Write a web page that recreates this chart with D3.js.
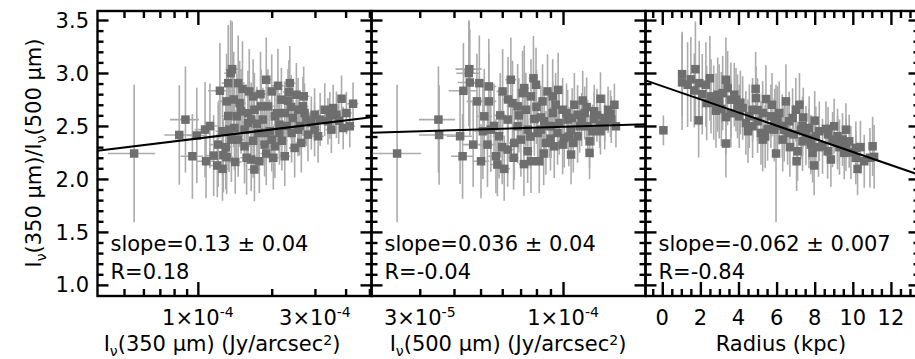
<!DOCTYPE html>
<html>
<head>
<meta charset="utf-8">
<script src="https://cdn.jsdelivr.net/npm/d3@7"></script>
<style>
  body { margin: 0; background: #fff; }
  svg { display: block; font-family: 'DejaVu Sans', sans-serif; }
</style>
</head>
<body>
<script>
// 350/500 um ratio against surface brightness and radius
// surface brightness values are in units of 1e-5 Jy/arcsec^2

// [I350, ratio, ratio err, I350 err]
const pts_350 = [
  [5.5, 2.24, 0.65, 1.2], [8.9, 2.56, 0.5, 1.2], [8.4, 2.415, 0.47, 1.1], [9.5, 2.214, 0.4, 1.0],
  [9.9, 2.41, 0.45, 0.9], [10.7, 2.465, 0.45, 1.0], [10.8, 2.167, 0.35, 0.9], [11.6, 2.22, 0.38, 0.9],
  [12.3, 2.832, 0.45, 1.3], [13.1, 2.732, 0.45, 1.0], [13.3, 2.594, 0.5, 0.8], [13.3, 2.904, 0.55, 0.8],
  [13.6, 2.998, 0.5, 0.8], [13.8, 3.036, 0.45, 0.8], [12.1, 2.324, 0.4, 1.0], [12.7, 2.224, 0.35, 0.9],
  [12.0, 2.127, 0.3, 0.8], [12.6, 2.095, 0.3, 0.8], [13.1, 2.205, 0.35, 0.8], [13.7, 2.371, 0.4, 0.8],
  [14.1, 2.481, 0.4, 0.9], [14.6, 2.904, 0.45, 0.9], [14.8, 2.716, 0.4, 0.9], [15.0, 2.638, 0.4, 0.9],
  [15.5, 2.308, 0.35, 0.9], [16.0, 2.528, 0.35, 0.9], [16.2, 2.826, 0.4, 1.0], [16.8, 2.779, 0.35, 1.0],
  [17.0, 2.653, 0.35, 1.0], [17.6, 2.434, 0.3, 1.0], [16.5, 2.183, 0.3, 1.0], [17.8, 2.167, 0.3, 1.0],
  [19.0, 2.936, 0.4, 1.1], [19.3, 2.685, 0.35, 1.1], [18.4, 2.56, 0.3, 1.1], [20.0, 2.826, 0.35, 1.1],
  [20.6, 2.591, 0.3, 1.1], [21.2, 2.879, 0.35, 1.2], [21.5, 2.434, 0.3, 1.2], [21.9, 2.748, 0.3, 1.2],
  [22.6, 2.622, 0.3, 1.2], [23.7, 2.904, 0.35, 1.3], [23.3, 2.738, 0.3, 1.3], [24.4, 2.575, 0.28, 1.3],
  [25.2, 2.795, 0.3, 1.4], [25.6, 2.465, 0.25, 1.4], [26.8, 2.685, 0.28, 1.4], [27.7, 2.56, 0.25, 1.5],
  [28.1, 2.418, 0.25, 1.5], [26.4, 2.34, 0.28, 1.4], [29.9, 2.465, 0.25, 1.6], [32.9, 2.653, 0.25, 1.7],
  [35.6, 2.669, 0.22, 1.8], [33.9, 2.544, 0.22, 1.8], [38.5, 2.757, 0.22, 2.0], [40.3, 2.622, 0.2, 2.1],
  [42.9, 2.71, 0.2, 2.2], [39.1, 2.481, 0.2, 2.0], [41.6, 2.497, 0.2, 2.1], [20.6, 2.308, 0.3, 1.1],
  [18.7, 2.324, 0.3, 1.0], [17.0, 2.089, 0.3, 1.0], [15.5, 2.465, 0.35, 0.9], [20.0, 2.371, 0.3, 1.1],
  [22.6, 2.214, 0.28, 1.2], [24.8, 2.293, 0.28, 1.3], [29.0, 2.528, 0.25, 1.5], [30.9, 2.403, 0.25, 1.6],
  [35.0, 2.465, 0.22, 1.8], [36.7, 2.606, 0.22, 1.9], [25.6, 2.653, 0.3, 1.4], [18.7, 2.434, 0.3, 1.0],
  [14.6, 2.371, 0.35, 0.9], [14.4, 2.591, 0.4, 0.9], [21.5, 2.512, 0.3, 1.2], [29.9, 2.606, 0.25, 1.6],
  [24.1, 2.434, 0.28, 1.3], [13.4, 2.465, 0.4, 0.8], [18.1, 2.685, 0.35, 1.0], [16.5, 2.56, 0.35, 1.0],
  [14.0, 2.75, 0.45, 0.9], [15.2, 2.85, 0.45, 0.9], [16.0, 2.62, 0.4, 1.0], [17.4, 2.52, 0.35, 1.0],
  [18.0, 2.8, 0.4, 1.0], [19.6, 2.45, 0.3, 1.1], [20.3, 2.2, 0.3, 1.1], [21.0, 2.62, 0.3, 1.2],
  [23.0, 2.5, 0.3, 1.3], [24.0, 2.68, 0.3, 1.3], [26.0, 2.5, 0.28, 1.4], [27.2, 2.62, 0.28, 1.5],
  [31.5, 2.56, 0.25, 1.7], [34.5, 2.6, 0.22, 1.8], [13.0, 2.3, 0.4, 0.8], [15.8, 2.2, 0.35, 0.9],
  [19.0, 2.24, 0.3, 1.0], [22.0, 2.36, 0.28, 1.2], [16.8, 2.36, 0.35, 1.0], [14.2, 2.16, 0.3, 0.9],
  [11.2, 2.5, 0.4, 0.9], [12.6, 2.45, 0.4, 0.8], [23.5, 2.82, 0.3, 1.3], [27.0, 2.78, 0.28, 1.5],
  [37.5, 2.55, 0.22, 1.9],
]

// [I500, ratio, ratio err, I500 err]
const pts_500 = [
  [2.48, 2.24, 0.65, 0.55], [3.51, 2.56, 0.5, 0.53], [3.53, 2.415, 0.47, 0.55], [4.21, 2.403, 0.45, 0.45],
  [4.3, 2.214, 0.4, 0.4], [4.55, 3.036, 0.45, 0.5], [4.53, 2.998, 0.5, 0.45], [4.57, 2.91, 0.5, 0.45],
  [4.33, 2.832, 0.45, 0.5], [4.95, 2.904, 0.45, 0.4], [4.85, 2.732, 0.45, 0.4], [4.7, 2.324, 0.4, 0.4],
  [5.16, 2.591, 0.45, 0.35], [5.3, 2.324, 0.4, 0.35], [5.36, 2.732, 0.45, 0.35], [5.36, 2.873, 0.45, 0.35],
  [5.02, 2.167, 0.35, 0.35], [5.69, 2.214, 0.35, 0.35], [5.76, 2.136, 0.3, 0.3], [6.1, 2.095, 0.3, 0.3],
  [5.84, 2.403, 0.4, 0.3], [6.02, 2.826, 0.4, 0.3], [6.28, 2.56, 0.4, 0.3], [6.45, 2.936, 0.4, 0.3],
  [6.54, 2.716, 0.4, 0.3], [6.83, 2.497, 0.35, 0.3], [7.02, 2.371, 0.35, 0.3], [7.12, 2.81, 0.4, 0.3],
  [7.22, 2.857, 0.4, 0.3], [7.32, 2.653, 0.35, 0.3], [7.43, 2.261, 0.3, 0.3], [7.64, 2.779, 0.35, 0.3],
  [7.86, 2.566, 0.35, 0.3], [7.97, 2.889, 0.35, 0.3], [8.19, 2.167, 0.3, 0.3], [8.31, 2.465, 0.3, 0.3],
  [8.42, 2.732, 0.35, 0.3], [8.78, 2.826, 0.35, 0.3], [8.66, 2.34, 0.3, 0.3], [9.17, 2.622, 0.3, 0.3],
  [9.29, 2.308, 0.3, 0.3], [9.55, 2.434, 0.3, 0.3], [9.69, 2.528, 0.3, 0.3], [9.97, 2.653, 0.3, 0.3],
  [10.1, 2.387, 0.28, 0.3], [10.7, 2.465, 0.28, 0.3], [10.8, 2.575, 0.28, 0.3], [10.7, 2.23, 0.28, 0.3],
  [11.0, 2.7, 0.3, 0.3], [11.5, 2.497, 0.25, 0.3], [12.0, 2.622, 0.25, 0.3], [12.5, 2.355, 0.25, 0.3],
  [12.2, 2.678, 0.28, 0.3], [13.0, 2.566, 0.25, 0.3], [13.0, 2.638, 0.25, 0.3], [13.7, 2.757, 0.25, 0.3],
  [13.6, 2.512, 0.22, 0.3], [14.2, 2.575, 0.22, 0.3], [14.9, 2.616, 0.22, 0.3], [15.4, 2.7, 0.2, 0.3],
  [15.6, 2.497, 0.2, 0.3], [13.7, 2.45, 0.22, 0.3], [12.5, 2.246, 0.25, 0.3], [8.08, 2.434, 0.3, 0.3],
  [6.64, 2.34, 0.35, 0.3], [6.83, 2.685, 0.4, 0.3], [8.54, 2.544, 0.3, 0.3], [10.4, 2.56, 0.28, 0.3],
  [11.3, 2.403, 0.25, 0.3], [7.43, 2.465, 0.35, 0.3], [9.05, 2.497, 0.3, 0.3], [14.6, 2.653, 0.22, 0.3],
  [5.45, 2.465, 0.4, 0.35], [6.28, 2.277, 0.35, 0.3], [9.97, 2.324, 0.28, 0.3], [7.64, 2.167, 0.3, 0.3],
  [12.3, 2.497, 0.25, 0.3], [9.17, 2.779, 0.35, 0.3], [11.3, 2.606, 0.28, 0.3], [14.2, 2.497, 0.22, 0.3],
  [5.9, 2.6, 0.4, 0.3], [6.3, 2.75, 0.4, 0.3], [6.9, 2.6, 0.35, 0.3], [7.6, 2.4, 0.3, 0.3],
  [8.0, 2.68, 0.35, 0.3], [8.9, 2.5, 0.3, 0.3], [9.4, 2.7, 0.3, 0.3], [10.3, 2.62, 0.28, 0.3],
  [11.7, 2.56, 0.25, 0.3], [12.8, 2.45, 0.25, 0.3], [5.6, 2.5, 0.4, 0.35], [6.6, 2.2, 0.3, 0.3],
  [7.2, 2.14, 0.3, 0.3], [8.5, 2.24, 0.3, 0.3], [9.0, 2.38, 0.3, 0.3], [10.9, 2.34, 0.28, 0.3],
  [13.3, 2.6, 0.25, 0.3], [15.0, 2.56, 0.22, 0.3], [6.0, 2.3, 0.35, 0.3], [7.8, 2.95, 0.4, 0.3],
  [5.1, 2.45, 0.45, 0.35], [9.6, 2.84, 0.35, 0.3], [11.8, 2.74, 0.28, 0.3], [8.3, 2.58, 0.3, 0.3],
  [10.5, 2.4, 0.28, 0.3],
]

// [radius kpc, ratio, ratio err]
const pts_radius = [
  [0.06, 2.459, 0.14], [1.04, 2.989, 0.4], [1.04, 2.911, 0.45], [1.33, 2.889, 0.4],
  [1.74, 3.036, 0.45], [1.94, 2.904, 0.4], [2.29, 2.889, 0.4], [1.68, 2.835, 0.35],
  [1.91, 2.553, 0.35], [2.33, 2.716, 0.35], [2.56, 2.779, 0.35], [2.82, 2.644, 0.35],
  [2.91, 2.795, 0.35], [3.34, 2.936, 0.4], [3.43, 2.857, 0.35], [3.34, 2.584, 0.35],
  [3.34, 2.334, 0.32], [3.6, 2.748, 0.35], [3.78, 2.795, 0.3], [3.95, 2.685, 0.3],
  [3.87, 2.748, 0.3], [4.22, 2.669, 0.3], [4.39, 2.528, 0.3], [4.57, 2.591, 0.3],
  [4.74, 2.653, 0.3], [4.92, 2.763, 0.3], [5.0, 2.544, 0.3], [5.18, 2.434, 0.3],
  [5.27, 2.622, 0.3], [5.44, 2.754, 0.32], [5.53, 2.472, 0.3], [5.7, 2.591, 0.3],
  [5.76, 2.7, 0.3], [5.88, 2.465, 0.3], [5.97, 2.24, 0.65], [6.05, 2.575, 0.3],
  [6.14, 2.622, 0.3], [6.32, 2.371, 0.3], [6.49, 2.732, 0.35], [6.58, 2.434, 0.3],
  [6.66, 2.544, 0.28], [6.84, 2.575, 0.28], [7.01, 2.653, 0.3], [7.1, 2.261, 0.28],
  [7.05, 2.167, 0.28], [7.28, 2.465, 0.28], [7.36, 2.355, 0.28], [7.54, 2.409, 0.28],
  [7.71, 2.481, 0.3], [7.8, 2.324, 0.28], [7.97, 2.127, 0.28], [8.06, 2.403, 0.28],
  [8.24, 2.45, 0.28], [8.41, 2.308, 0.26], [8.59, 2.472, 0.26], [8.68, 2.261, 0.26],
  [8.85, 2.183, 0.26], [9.02, 2.497, 0.26], [9.2, 2.403, 0.26], [9.2, 2.34, 0.25],
  [9.46, 2.371, 0.25], [9.55, 2.246, 0.25], [9.64, 2.324, 0.25], [9.81, 2.355, 0.25],
  [10.16, 2.293, 0.25], [10.16, 2.199, 0.25], [10.25, 2.095, 0.25], [10.6, 2.167, 0.25],
  [11.12, 2.208, 0.3], [4.74, 2.497, 0.3], [4.04, 2.591, 0.3], [7.36, 2.497, 0.28],
  [5.27, 2.371, 0.3], [6.4, 2.465, 0.3], [7.89, 2.246, 0.28], [8.94, 2.371, 0.26],
  [2.99, 2.732, 0.35], [9.64, 2.465, 0.25], [11.04, 2.308, 0.28], [3.17, 2.81, 0.35],
  [1.5, 2.94, 0.4], [2.1, 2.8, 0.38], [2.7, 2.72, 0.35], [3.1, 2.66, 0.35],
  [3.6, 2.62, 0.32], [4.1, 2.72, 0.3], [4.5, 2.45, 0.3], [5.0, 2.65, 0.3],
  [5.4, 2.4, 0.3], [5.9, 2.55, 0.3], [6.3, 2.5, 0.3], [6.9, 2.42, 0.28],
  [7.4, 2.58, 0.28], [7.7, 2.38, 0.28], [8.2, 2.3, 0.28], [8.7, 2.42, 0.26],
  [9.3, 2.3, 0.26], [9.9, 2.25, 0.25], [10.4, 2.3, 0.25], [10.9, 2.2, 0.28],
  [6.7, 2.3, 0.28], [8.0, 2.55, 0.28], [4.9, 2.85, 0.35], [2.5, 2.95, 0.4],
  [7.2, 2.7, 0.3],
]

// fitted lines, end points
const fit_350 = [[3.9, 2.266], [51, 2.582]]
const fit_500 = [[2, 2.436], [20, 2.516]]
const fit_radius = [[-0.88, 2.93], [13.5, 2.038]]

const fit_text = [
  ['slope=0.13 ± 0.04', 'R=0.18'],
  ['slope=0.036 ± 0.04', 'R=-0.04'],
  ['slope=-0.062 ± 0.007', 'R=-0.84'],
]

const y_major = [1.0, 1.5, 2.0, 2.5, 3.0, 3.5]
const y_minor = [1.1, 1.2, 1.3, 1.4, 1.6, 1.7, 1.8, 1.9, 2.1, 2.2, 2.3, 2.4, 2.6, 2.7, 2.8, 2.9, 3.1, 3.2, 3.3, 3.4]

const x350_major = [10]
const x350_minor = [5, 6, 7, 8, 9, 20, 30, 40, 50]
const x350_labels = [[10, '1×10', '-4'], [30, '3×10', '-4']]

const x500_major = [10]
const x500_minor = [3, 4, 5, 6, 7, 8, 9]
const x500_labels = [[3, '3×10', '-5'], [10, '1×10', '-4']]

const r_major = [0, 2, 4, 6, 8, 10, 12]
const r_minor = [-0.5, 0.5, 1, 1.5, 2.5, 3, 3.5, 4.5, 5, 5.5, 6.5, 7, 7.5, 8.5, 9, 9.5, 10.5, 11, 11.5, 12.5, 13]

const width = 915
const height = 359
const top_y = 11
const bottom_y = 296
const panel_x = [97.5, 371.5, 645.5, 919.5]

const bar_color = '#ababab'
const dot_color = '#6e6e6e'
const font_size = 21

function translate(dx, dy) {
  return `translate(${dx}, ${dy})`
}

const svg = d3.select('body').append('svg')
  .attr('width', width)
  .attr('height', height)
  .attr('viewBox', `0 0 ${width} ${height}`)

const y = d3.scaleLinear().domain([0.895, 3.585]).range([bottom_y, top_y])

const panels = [
  {x: d3.scaleLog().domain([3.9, 51]).range([panel_x[0], panel_x[1]]), pts: pts_350, fit: fit_350,
   major: x350_major, minor: x350_minor},
  {x: d3.scaleLog().domain([2, 20]).range([panel_x[1], panel_x[2]]), pts: pts_500, fit: fit_500,
   major: x500_major, minor: x500_minor},
  {x: d3.scaleLinear().domain([-0.88, 13.5]).range([panel_x[2], panel_x[3]]), pts: pts_radius, fit: fit_radius,
   major: r_major, minor: r_minor},
]

// text with sub/superscripts: parts are [string, shift], shift 1 = sub, -1 = sup
function rich(text, parts, sup_raise = 9) {
  let offset = 0
  for (const [s, shift] of parts) {
    const target = shift > 0 ? 5 : shift < 0 ? -sup_raise : 0
    text.append('tspan')
      .attr('dy', target - offset)
      .attr('font-size', shift ? 14 : null)
      .text(s)
    offset = target
  }
  return text
}

function draw_ticks(axis, values, size, transform) {
  svg.append('g')
    .attr('transform', transform)
    .call(axis.tickValues(values).tickSize(size).tickFormat(''))
    .call(g => g.select('.domain').remove())
    .selectAll('.tick line')
      .attr('stroke', '#000')
      .attr('stroke-width', 2.4)
}

panels.forEach((p, i) => {
  const x0 = panel_x[i]
  const x1 = panel_x[i + 1]
  const x = p.x

  svg.append('clipPath').attr('id', `clip${i}`)
    .append('rect')
      .attr('x', x0).attr('y', top_y)
      .attr('width', x1 - x0).attr('height', bottom_y - top_y)

  const g = svg.append('g').attr('clip-path', `url(#clip${i})`)

  g.append('g')
    .selectAll('line')
    .data(p.pts)
    .join('line')
      .attr('x1', d => x(d[0])).attr('x2', d => x(d[0]))
      .attr('y1', d => y(d[1] - d[2])).attr('y2', d => y(d[1] + d[2]))
      .attr('stroke', bar_color)
      .attr('stroke-width', 1.6)

  g.append('g')
    .selectAll('line')
    .data(p.pts.filter(d => d.length > 3))
    .join('line')
      .attr('x1', d => x(d[0] - d[3])).attr('x2', d => x(d[0] + d[3]))
      .attr('y1', d => y(d[1])).attr('y2', d => y(d[1]))
      .attr('stroke', bar_color)
      .attr('stroke-width', 1.6)

  g.append('g')
    .selectAll('rect')
    .data(p.pts)
    .join('rect')
      .attr('x', d => x(d[0]) - 4.25)
      .attr('y', d => y(d[1]) - 4.25)
      .attr('width', 8.5)
      .attr('height', 8.5)
      .attr('fill', dot_color)

  g.append('path')
    .datum(p.fit)
    .attr('d', d3.line().x(d => x(d[0])).y(d => y(d[1])))
    .attr('fill', 'none')
    .attr('stroke', '#000')
    .attr('stroke-width', 2)

  // frame
  svg.append('rect')
    .attr('x', x0).attr('y', top_y)
    .attr('width', x1 - x0).attr('height', bottom_y - top_y)
    .attr('fill', 'none')
    .attr('stroke', '#000')
    .attr('stroke-width', 2.4)

  draw_ticks(d3.axisBottom(x), p.major, -14, translate(0, bottom_y))
  draw_ticks(d3.axisBottom(x), p.minor, -7, translate(0, bottom_y))
  draw_ticks(d3.axisTop(x), p.major, -14, translate(0, top_y))
  draw_ticks(d3.axisTop(x), p.minor, -7, translate(0, top_y))
  draw_ticks(d3.axisLeft(y), y_major, -11, translate(x0, 0))
  draw_ticks(d3.axisLeft(y), y_minor, -6, translate(x0, 0))
  draw_ticks(d3.axisRight(y), y_major, -11, translate(x1, 0))
  draw_ticks(d3.axisRight(y), y_minor, -6, translate(x1, 0))

  svg.append('g')
    .attr('font-size', font_size)
    .selectAll('text')
    .data(fit_text[i])
    .join('text')
      .attr('x', x0 + 13)
      .attr('y', (_, k) => 251 + 28 * k)
      .text(d => d)
})

// y tick labels
svg.append('g')
  .attr('font-size', font_size)
  .attr('text-anchor', 'end')
  .selectAll('text')
  .data(y_major)
  .join('text')
    .attr('x', 89)
    .attr('y', d => y(d) + 7.6)
    .text(d3.format('.1f'))

// x tick labels
const sci = [x350_labels, x500_labels]
sci.forEach((labels, i) => {
  svg.append('g')
    .attr('font-size', font_size)
    .attr('text-anchor', 'middle')
    .selectAll('text')
    .data(labels)
    .join('text')
      .attr('x', d => panels[i].x(d[0]))
      .attr('y', 325)
      .each(function (d) {
        rich(d3.select(this), [[d[1], 0], [d[2], -1]], 8)
      })
})

svg.append('g')
  .attr('font-size', font_size)
  .attr('text-anchor', 'middle')
  .selectAll('text')
  .data(r_major)
  .join('text')
    .attr('x', d => panels[2].x(d))
    .attr('y', 325)
    .text(d => d)

// axis titles
const titles = svg.append('g')
  .attr('font-size', font_size)
  .attr('text-anchor', 'middle')

rich(titles.append('text').attr('x', 222).attr('y', 351),
  [['I', 0], ['ν', 1], ['(350 μm) (Jy/arcsec', 0], ['2', -1], [')', 0]], 6)
rich(titles.append('text').attr('x', 508).attr('y', 351),
  [['I', 0], ['ν', 1], ['(500 μm) (Jy/arcsec', 0], ['2', -1], [')', 0]], 6)
titles.append('text').attr('x', 781).attr('y', 351).text('Radius (kpc)')

rich(titles.append('text').attr('transform', translate(41, 153) + ' rotate(-90)'),
  [['I', 0], ['ν', 1], ['(350 μm)/I', 0], ['ν', 1], ['(500 μm)', 0]])
</script>
</body>
</html>
